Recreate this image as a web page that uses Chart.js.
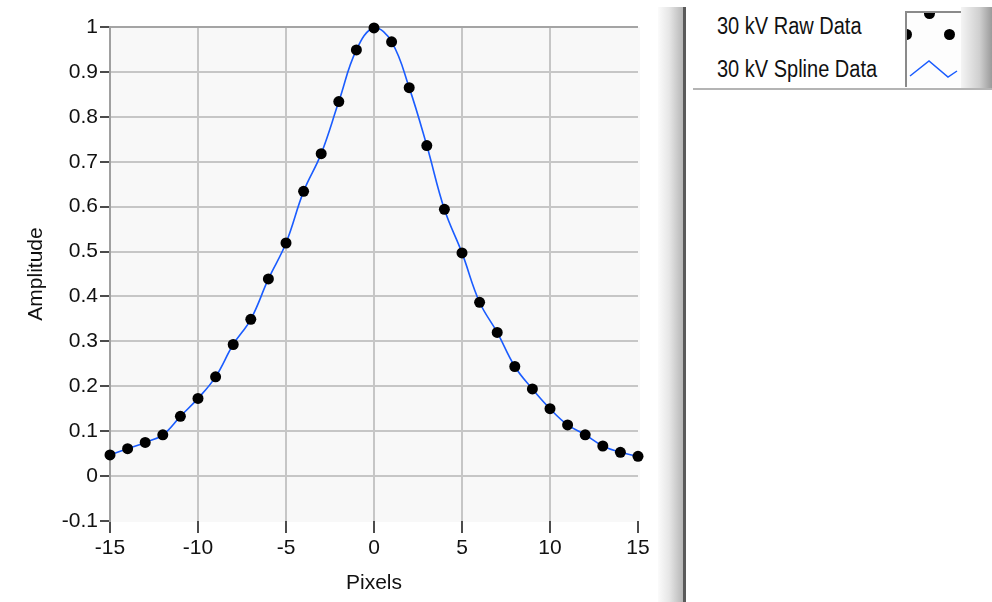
<!DOCTYPE html>
<html>
<head>
<meta charset="utf-8">
<script src="https://cdn.jsdelivr.net/npm/chart.js@4.4.0/dist/chart.umd.min.js"></script>
<style>
  html, body { margin: 0; padding: 0; background: #fff; }
  body { width: 992px; height: 602px; position: relative; overflow: hidden;
         font-family: 'Liberation Sans', Arial, sans-serif; }
  #wrap { position: absolute; left: 0; top: 0; width: 660px; height: 602px; }
  #bar { position: absolute; left: 658px; top: 7px; width: 28px; height: 595px;
         background: linear-gradient(to right, #fbfbfb 0%, #e6e6e6 40%, #b8b8b8 88%, #5a5a5a 90%, #5a5a5a 100%); }
  #legend { position: absolute; left: 693px; top: 7px; width: 299px; height: 81px;
            border-bottom: 2px solid #b4b4b4; }
  #legend .row { position: absolute; left: 24px; font-size: 20px; color: #111; white-space: nowrap;
                 transform: scaleY(1.15); transform-origin: left top; }
  #swatch { position: absolute; left: 212px; top: 4px; width: 54px; height: 74px;
            border-left: 2px solid #8a8a8a; border-top: 2px solid #8a8a8a; background: #fdfdfd; overflow: hidden; }
  #shade { position: absolute; left: 268px; top: 0; width: 31px; height: 81px;
           background: linear-gradient(to right, #f4f4f4, #cfcfcf 60%, #9a9a9a); }
  .dot { position: absolute; width: 11px; height: 11px; border-radius: 50%; background: #000; }
</style>
</head>
<body>
<div id="wrap"><canvas id="chart" width="660" height="602"></canvas></div>
<div id="bar"></div>
<div id="legend">
  <div class="row" style="top:6px">30 kV Raw Data</div>
  <div class="row" style="top:49px">30 kV Spline Data</div>
  <div id="swatch">
    <div class="dot" style="left:17px; top:-5px"></div>
    <div class="dot" style="left:-6px; top:16px"></div>
    <div class="dot" style="left:37px; top:16px"></div>
    <svg width="54" height="74" style="position:absolute;left:0;top:0">
      <polyline points="3,63 22,48 41,64 50,58" fill="none" stroke="#1a5cff" stroke-width="1.5"/>
    </svg>
  </div>
  <div id="shade"></div>
</div>
<script>
// values
const pixels = [-15, -14, -13, -12, -11, -10, -9, -8, -7, -6, -5, -4, -3, -2, -1,
                0, 1, 2, 3, 4, 5, 6, 7, 8, 9, 10, 11, 12, 13, 14, 15];
const rawAmplitude = [0.047, 0.061, 0.075, 0.092, 0.133, 0.173, 0.221, 0.293, 0.349, 0.439, 0.519,
                      0.634, 0.718, 0.834, 0.949, 0.998, 0.967, 0.865, 0.736, 0.594, 0.497,
                      0.387, 0.320, 0.244, 0.194, 0.150, 0.114, 0.092, 0.067, 0.053, 0.044];
const xTicks = [-15, -10, -5, 0, 5, 10, 15];
const yTicks = [-0.1, 0, 0.1, 0.2, 0.3, 0.4, 0.5, 0.6, 0.7, 0.8, 0.9, 1];

const FONT = "'Liberation Sans', Arial, sans-serif";
const tickFont = { family: FONT, size: 21 };

const plotBg = {
    id: 'plotBg',
    beforeDraw(chart) {
        const a = chart.chartArea;
        const c = chart.ctx;
        c.save();
        c.fillStyle = '#f8f8f8';
        c.fillRect(a.left, a.top, a.right - a.left + 2, a.bottom - a.top + 1);
        c.restore();
    }
};

const points = pixels.map((x, i) => ({ x: x, y: rawAmplitude[i] }));

new Chart(document.getElementById('chart').getContext('2d'), {
    type: 'scatter',
    data: {
        datasets: [
            {
                label: '30 kV Raw Data',
                data: points,
                showLine: false,
                pointRadius: 5.5,
                pointBackgroundColor: '#000',
                pointBorderColor: '#000',
                pointBorderWidth: 0
            },
            {
                label: '30 kV Spline Data',
                data: points,
                showLine: true,
                borderColor: '#1a5cff',
                borderWidth: 1.6,
                pointRadius: 0,
                tension: 0.4
            }
        ]
    },
    options: {
        responsive: false,
        animation: false,
        clip: false,
        layout: { padding: { left: 0, top: 27, right: 22, bottom: 0 } },
        plugins: { legend: { display: false }, tooltip: { enabled: false } },
        scales: {
            x: {
                type: 'linear',
                min: -15,
                max: 15,
                afterBuildTicks: s => { s.ticks = xTicks.map(v => ({ value: v })); },
                afterFit: s => { s.height = 81; },
                ticks: { color: '#111', font: tickFont, padding: 3, maxRotation: 0, autoSkip: false,
                         callback: v => String(v) },
                grid: {
                    color: c => (c.tick && (c.tick.value === -15 || c.tick.value === 15)) ? 'rgba(0,0,0,0)' : '#c6c6c6',
                    lineWidth: 2,
                    tickColor: '#111',
                    tickWidth: 1.5,
                    tickLength: 12
                },
                border: { display: false },
                title: { display: true, text: 'Pixels', color: '#111', font: tickFont, padding: { top: 0, bottom: 6 } }
            },
            y: {
                type: 'linear',
                min: -0.1,
                max: 1,
                afterBuildTicks: s => { s.ticks = yTicks.map(v => ({ value: v })); },
                afterFit: s => { s.width = 110; },
                ticks: { color: '#111', font: tickFont, padding: 2, autoSkip: false,
                         callback: v => String(v) },
                grid: {
                    color: c => {
                        if (!c.tick) return '#c6c6c6';
                        if (c.tick.value === 1) return '#a4a4a4';
                        if (c.tick.value === -0.1) return 'rgba(0,0,0,0)';
                        return '#c6c6c6';
                    },
                    lineWidth: 2,
                    tickColor: '#111',
                    tickWidth: 1.5,
                    tickLength: 10
                },
                border: { display: true, color: '#a0a0a0', width: 2 },
                title: { display: true, text: 'Amplitude', color: '#111', font: tickFont, padding: { top: 24, bottom: 0 } }
            }
        }
    },
    plugins: [plotBg]
});
</script>
</body>
</html>
